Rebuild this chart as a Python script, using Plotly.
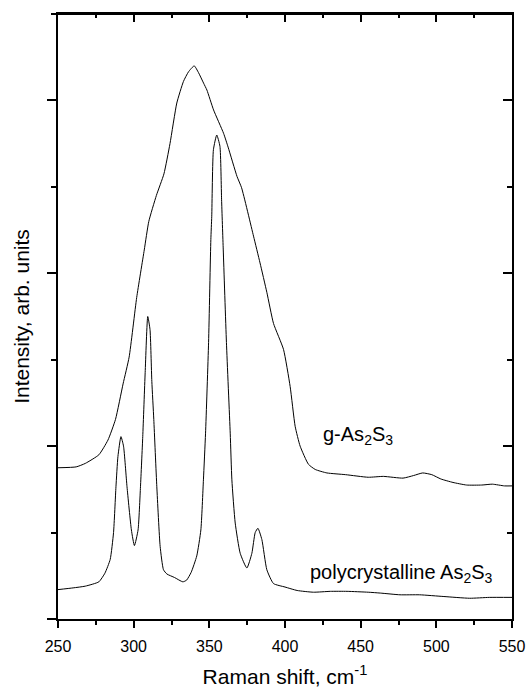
import plotly.graph_objects as go

# Glassy g-As2S3 spectrum
glass_shift = [250, 262, 268, 277, 283, 288, 293, 297, 302, 307, 310, 315, 320, 324, 328.5,
               332.9, 336.2, 340, 342.9, 346.2, 348.4, 352.8, 359.4, 362.4, 368.3, 371.3,
               379.2, 383.5, 388, 392.4, 399, 403.4, 406.7, 410, 415.5, 420, 427.7, 440,
               455, 465, 478, 485, 491, 497, 503, 511, 520, 530, 537, 545, 550]
glass_int = [1.75, 1.76, 1.80, 1.90, 2.07, 2.31, 2.72, 3.03, 3.72, 4.27, 4.60, 4.90, 5.15, 5.50, 5.97,
             6.22, 6.33, 6.40, 6.32, 6.20, 6.12, 5.89, 5.62, 5.46, 5.12, 4.99,
             4.43, 4.12, 3.78, 3.42, 3.12, 2.69, 2.23, 2.00, 1.79, 1.73, 1.69, 1.67,
             1.64, 1.65, 1.63, 1.66, 1.69, 1.67, 1.62, 1.58, 1.55, 1.55, 1.56, 1.54, 1.54]

# Polycrystalline As2S3 spectrum
poly_shift = [250, 260, 268, 277, 281, 284.5, 286.7, 288.3, 289.6, 291.6, 293.3, 295.6, 298.5,
              300.5, 302.9, 304.5, 306, 307.6, 309.3, 310.8, 312, 313.3, 315.3, 317.5, 319.7,
              322, 327, 332.5, 335, 338, 341.7, 344.4, 346.1, 347.5, 349.5, 351.0, 351.6,
              352.7, 354.9, 357.0, 358.1, 359.2, 361.3, 363.8, 364.9, 367.1, 370.4, 374.8,
              378.1, 380.3, 382.1, 384.7, 388, 392.4, 400, 408, 418.8, 430, 441, 455, 463,
              476, 489, 505, 522, 535, 550]
poly_int = [0.34, 0.36, 0.38, 0.43, 0.53, 0.69, 1.00, 1.53, 1.88, 2.11, 2.00, 1.53, 1.03,
            0.85, 1.03, 1.53, 2.11, 2.85, 3.50, 3.35, 2.75, 2.31, 1.53, 0.84, 0.57,
            0.52, 0.48, 0.43, 0.45, 0.54, 0.73, 1.03, 1.61, 2.15, 3.20, 4.39, 4.66,
            5.43, 5.60, 5.47, 4.85, 4.27, 3.20, 2.15, 1.61, 1.11, 0.76, 0.59,
            0.76, 1.00, 1.05, 0.92, 0.57, 0.41, 0.37, 0.33, 0.31, 0.32, 0.32, 0.31, 0.30,
            0.28, 0.28, 0.26, 0.24, 0.25, 0.25]

x_range = [250, 550]
y_range = [0, 7]
x_ticks = [250, 300, 350, 400, 450, 500, 550]
y_ticks = [0, 2, 4, 6]

FONT = "Liberation Sans, Arial, sans-serif"

fig = go.Figure()
fig.add_trace(go.Scatter(x=glass_shift, y=glass_int, mode="lines",
                         line=dict(color="black", width=1, shape="spline", smoothing=0.5),
                         showlegend=False))
fig.add_trace(go.Scatter(x=poly_shift, y=poly_int, mode="lines",
                         line=dict(color="black", width=1, shape="spline", smoothing=0.5),
                         showlegend=False))
# invisible helper traces so the mirrored top and right axes get drawn
fig.add_trace(go.Scatter(x=[x_range[0]], y=[y_range[0]], xaxis="x2", yaxis="y",
                         mode="markers", marker=dict(opacity=0),
                         showlegend=False, hoverinfo="skip"))
fig.add_trace(go.Scatter(x=[x_range[0]], y=[y_range[0]], xaxis="x", yaxis="y2",
                         mode="markers", marker=dict(opacity=0),
                         showlegend=False, hoverinfo="skip"))

fig.update_layout(
    width=526, height=688,
    margin=dict(l=58, r=14, t=14, b=69),
    paper_bgcolor="white", plot_bgcolor="white",
    font=dict(family=FONT, color="black", size=16),
    xaxis=dict(range=x_range, tickvals=x_ticks, ticks="outside", ticklen=7, tickwidth=1.5,
               tickcolor="black", showline=True, linecolor="black", linewidth=2, mirror=True,
               showgrid=False, zeroline=False, automargin=False,
               tickfont=dict(size=16), ticklabelstandoff=5,
               minor=dict(dtick=25, tick0=250, ticks="outside", ticklen=4, tickwidth=1.5,
                          tickcolor="black", showgrid=False),
               title=dict(text="Raman shift, cm<sup>-1</sup>", font=dict(size=21), standoff=15)),
    yaxis=dict(range=y_range, tickvals=y_ticks, ticks="outside", ticklen=9, tickwidth=1.5,
               tickcolor="black", showline=True, linecolor="black", linewidth=2, mirror=True,
               showgrid=False, zeroline=False, showticklabels=False, automargin=False,
               minor=dict(dtick=1, tick0=0, ticks="outside", ticklen=5, tickwidth=1.5,
                          tickcolor="black", showgrid=False),
               title=dict(text="Intensity, arb. units", font=dict(size=21), standoff=12)),
    xaxis2=dict(range=x_range, overlaying="x", anchor="y", side="top", tickvals=x_ticks,
                ticks="inside", ticklen=8, tickwidth=1.5, tickcolor="black", showline=True,
                linecolor="black", linewidth=2, showgrid=False, zeroline=False,
                showticklabels=False, automargin=False,
                minor=dict(dtick=25, tick0=250, ticks="inside", ticklen=4, tickwidth=1.5,
                           tickcolor="black", showgrid=False)),
    yaxis2=dict(range=y_range, overlaying="y", anchor="x", side="right", tickvals=y_ticks,
                ticks="inside", ticklen=9, tickwidth=1.5, tickcolor="black", showline=True,
                linecolor="black", linewidth=2, showgrid=False, zeroline=False,
                showticklabels=False, automargin=False,
                minor=dict(dtick=1, tick0=0, ticks="inside", ticklen=5, tickwidth=1.5,
                           tickcolor="black", showgrid=False)),
    shapes=[
        # frame border along the top edge of the plot area
        dict(type="line", xref="paper", yref="paper", x0=0, x1=1, y0=1, y1=1,
             line=dict(color="black", width=2), layer="above"),
    ],
    annotations=[
        dict(x=448, y=2.12, xref="x", yref="y", text="g-As<sub>2</sub>S<sub>3</sub>",
             showarrow=False, font=dict(size=20, family=FONT), xanchor="center", yanchor="middle"),
        dict(x=477, y=0.53, xref="x", yref="y", text="polycrystalline As<sub>2</sub>S<sub>3</sub>",
             showarrow=False, font=dict(size=20, family=FONT), xanchor="center", yanchor="middle"),
    ],
)

fig.write_html(
    "out.html",
    config={"displayModeBar": False},
    post_script="document.body.style.margin='0';document.body.style.overflow='hidden';",
)
